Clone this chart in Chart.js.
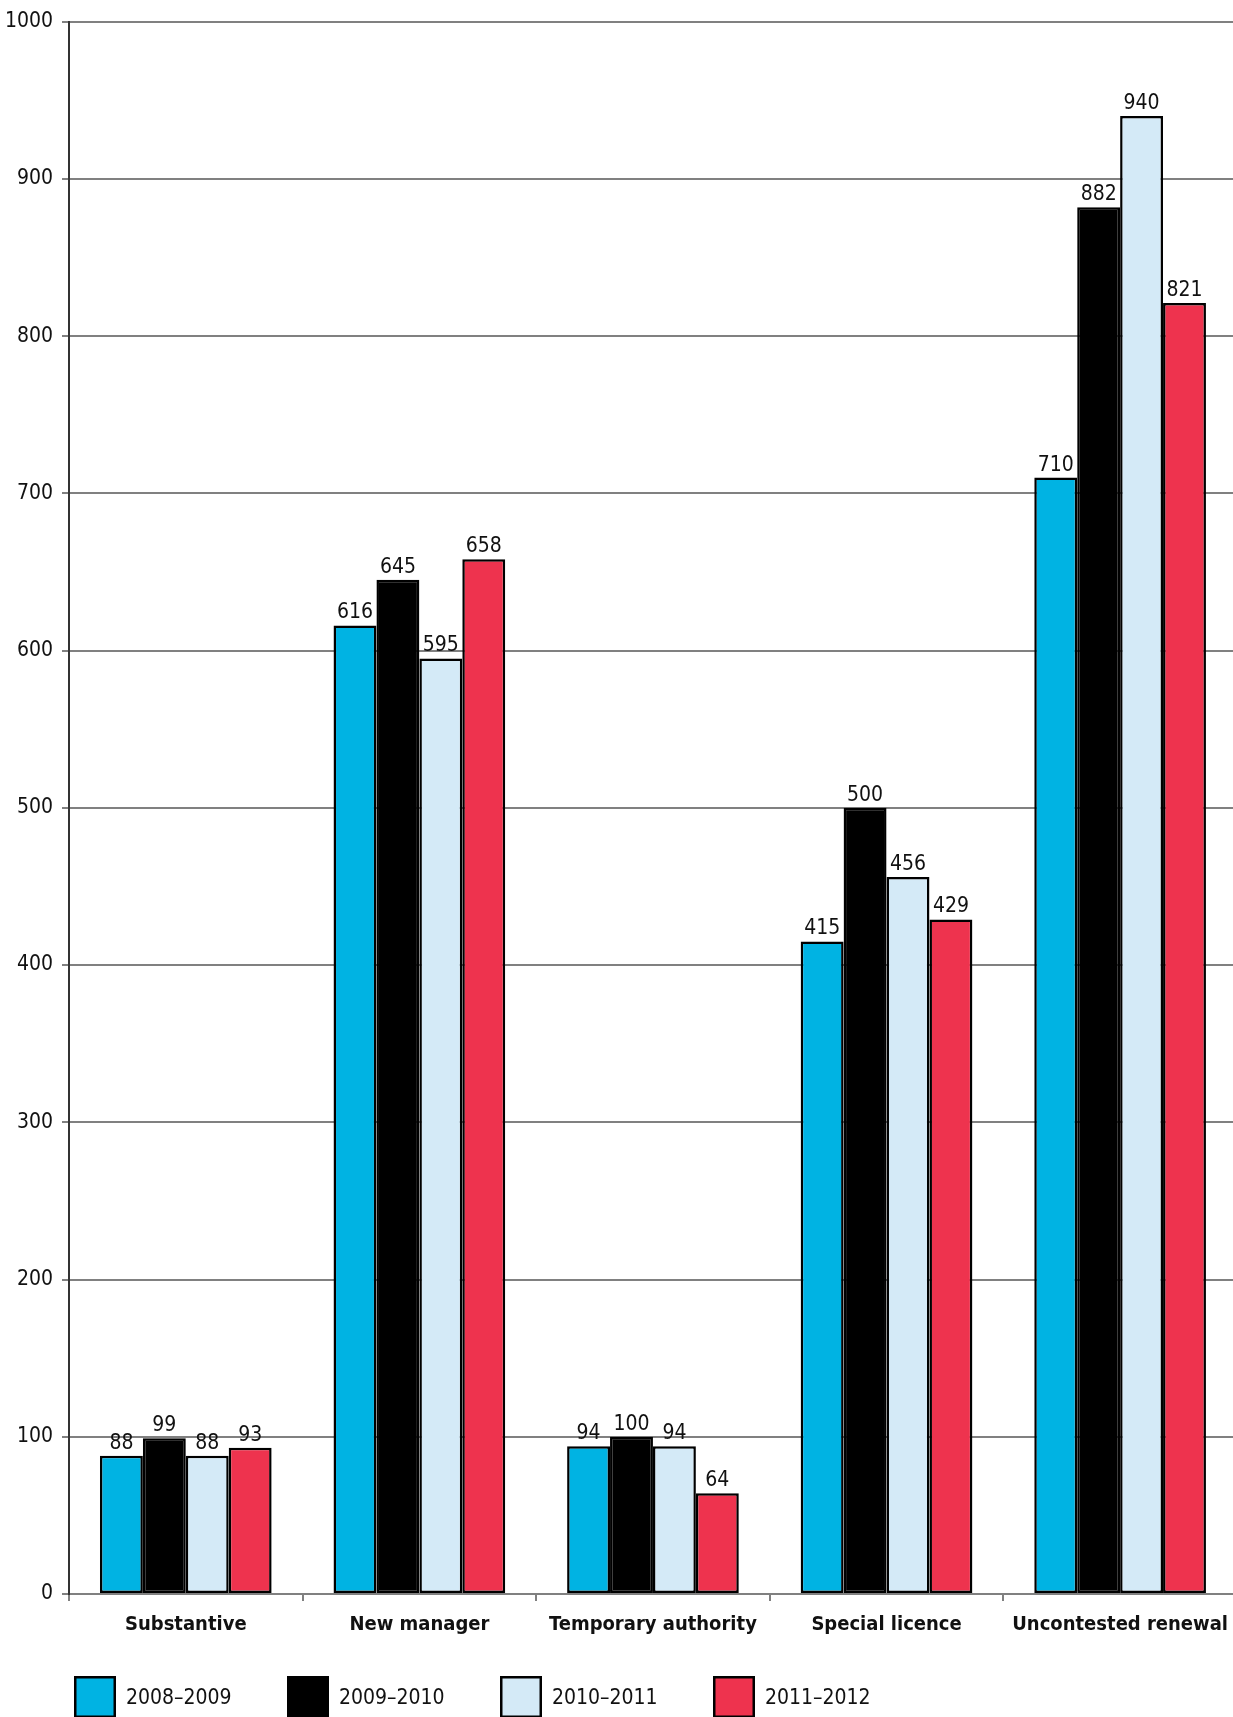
<!DOCTYPE html>
<html>
<head>
<meta charset="utf-8">
<script src="https://cdn.jsdelivr.net/npm/chart.js@4"></script>
<style>
  html, body { margin: 0; padding: 0; background: #fff; overflow: hidden; }
  #wrap { width: 1240px; height: 1717px; }
</style>
</head>
<body>
<div id="wrap"><canvas id="chart" width="1240" height="1717"></canvas></div>
<script>
const categories = ["Substantive", "New manager", "Temporary authority", "Special licence", "Uncontested renewal"];
const seriesNames = ["2008\u20132009", "2009\u20132010", "2010\u20132011", "2011\u20132012"];
const values0809 = [88, 616, 94, 415, 710];
const values0910 = [99, 645, 100, 500, 882];
const values1011 = [88, 595, 94, 456, 940];
const values1112 = [93, 658, 64, 429, 821];
const yTicks = [0, 100, 200, 300, 400, 500, 600, 700, 800, 900, 1000];

const colours = ["#00b3e3", "#000000", "#d4eaf7", "#ee334e"];
const FONT = "'Liberation Sans Narrow', 'DejaVu Sans Condensed', 'Liberation Sans', sans-serif";

const allSeries = [values0809, values0910, values1011, values1112];

// value above every bar
const barLabels = {
  id: "barLabels",
  afterDatasetsDraw(chart) {
    const ctx = chart.ctx;
    ctx.save();
    ctx.font = "21px " + FONT;
    ctx.fillStyle = "#111";
    ctx.textAlign = "center";
    ctx.textBaseline = "bottom";
    chart.data.datasets.forEach((ds, i) => {
      chart.getDatasetMeta(i).data.forEach((bar, j) => {
        ctx.fillText(String(ds.data[j]), bar.x, bar.y - 2);
      });
    });
    ctx.restore();
  }
};

// legend row along the bottom
const bottomLegend = {
  id: "bottomLegend",
  afterDraw(chart) {
    const ctx = chart.ctx;
    const y = 1676;
    const size = 42;
    ctx.save();
    ctx.font = "21px " + FONT;
    ctx.textBaseline = "middle";
    ctx.textAlign = "left";
    chart.data.datasets.forEach((ds, i) => {
      const x = 74 + i * 213;
      ctx.fillStyle = ds.backgroundColor;
      ctx.fillRect(x, y, size, size);
      ctx.lineWidth = 2.5;
      ctx.strokeStyle = "#000";
      ctx.strokeRect(x + 1.25, y + 1.25, size - 2.5, size - 2.5);
      ctx.fillStyle = "#111";
      ctx.fillText(ds.label, x + size + 10, y + 23);
    });
    ctx.restore();
  }
};

new Chart(document.getElementById("chart").getContext("2d"), {
  type: "bar",
  data: {
    labels: categories,
    datasets: seriesNames.map((name, i) => ({
      label: name,
      data: allSeries[i],
      backgroundColor: colours[i],
      borderColor: "#000",
      borderWidth: 2.5,
      borderSkipped: false,
      barPercentage: 1.0,
      categoryPercentage: 0.735
    }))
  },
  options: {
    responsive: false,
    devicePixelRatio: 1,
    animation: false,
    layout: { padding: { top: 19, right: 0, bottom: 0, left: 0 } },
    plugins: {
      legend: { display: false },
      tooltip: { enabled: false }
    },
    scales: {
      x: {
        offset: true,
        afterFit(scale) { scale.height = 123; },
        border: { display: true, color: "#808080", width: 2 },
        grid: {
          offset: true,
          drawOnChartArea: false,
          drawTicks: true,
          tickLength: 7,
          color: "#808080",
          lineWidth: 2
        },
        ticks: {
          color: "#111",
          padding: 12,
          maxRotation: 0,
          minRotation: 0,
          autoSkip: false,
          font: { family: FONT, size: 20, weight: "bold" }
        }
      },
      y: {
        min: 0,
        max: 1000,
        afterFit(scale) { scale.width = 69; },
        afterBuildTicks(scale) { scale.ticks = yTicks.map(v => ({ value: v })); },
        border: { display: true, color: "#333", width: 2 },
        grid: {
          color: "#808080",
          lineWidth: 2,
          tickLength: 7
        },
        ticks: {
          color: "#111",
          padding: 9,
          callback: v => String(v),
          font: { family: FONT, size: 21 }
        }
      }
    }
  },
  plugins: [barLabels, bottomLegend]
});
</script>
</body>
</html>
